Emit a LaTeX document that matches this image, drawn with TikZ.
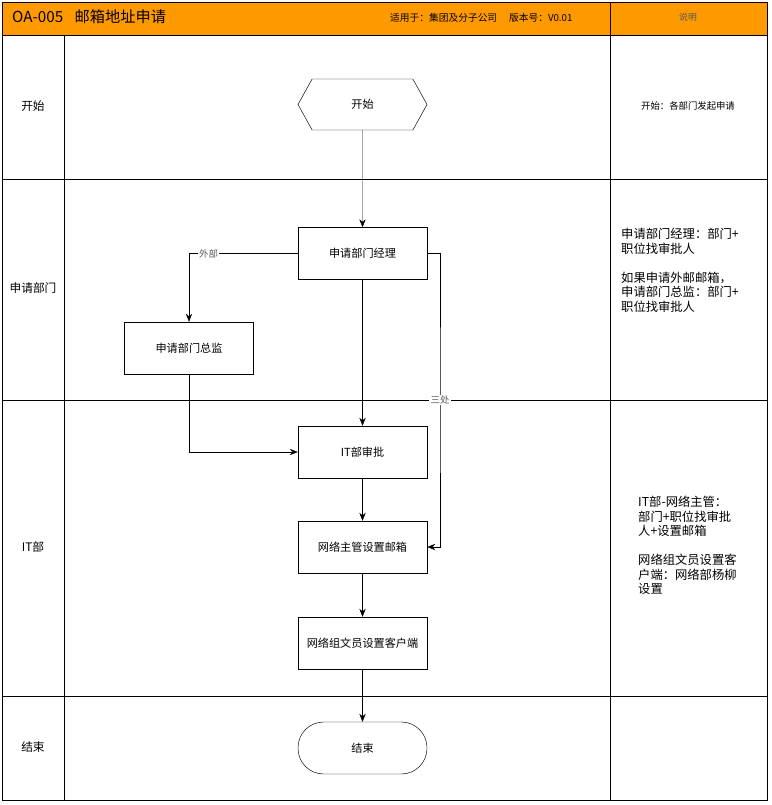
\documentclass[tikz,border=0pt]{standalone}
\usepackage{fontspec}
\setmainfont{Noto Sans CJK SC}
\usetikzlibrary{shapes.symbols,arrows.meta}
\definecolor{hdorange}{RGB}{255,153,0}
\definecolor{lblgray}{RGB}{90,90,90}
\begin{document}
\begin{tikzpicture}[x=0.03cm,y=-0.03cm,
    box/.style={draw,minimum width=3.87cm,minimum height=1.56cm,inner sep=0pt,font=\fontsize{9.5}{11}\selectfont},
    startbox/.style={draw,shape=signal,signal to=west and east,signal pointer angle=122,minimum width=3.87cm,minimum height=1.53cm,inner sep=0pt,font=\fontsize{9.5}{11}\selectfont},
    endbox/.style={draw,rounded corners=0.77cm,minimum width=3.87cm,minimum height=1.56cm,inner sep=0pt,font=\fontsize{9.5}{11}\selectfont},
    flow/.style={-{Stealth[length=0.24cm,width=0.19cm]}},
    lane/.style={font=\fontsize{10}{12}\selectfont},
    note/.style={anchor=north west,align=left,inner sep=0pt,font=\fontsize{10.5}{12.4}\selectfont},
    lbl/.style={fill=white,inner sep=1pt,text=lblgray,font=\fontsize{8}{9}\selectfont}]
    \useasboundingbox (0,0) rectangle (771,805);
    \fill[hdorange] (2,2) rectangle (767,35);
    \draw (2,2) rectangle (767,800);
    \foreach \y in {35,179,400,696}
        \draw (2,\y) -- (767,\y);
    \draw (64,35) -- (64,800);
    \draw (610,2) -- (610,800);
    \node[anchor=west,inner sep=0pt,font=\fontsize{13}{14}\selectfont] (titel) at (12,17) {OA-005\hspace{0.75em}邮箱地址申请};
    \node[anchor=west,inner sep=0pt,font=\fontsize{8.3}{9}\selectfont] (versie) at (390,18) {适用于：集团及分子公司\quad\ 版本号：V0.01};
    \node[text=lblgray,font=\fontsize{7.5}{9}\selectfont] (uitleg) at (688,17) {说明};
    \node[lane] (lkaishi) at (33,106) {开始};
    \node[lane] (lbumen) at (33,288) {申请部门};
    \node[lane] (lit) at (33,547) {IT部};
    \node[lane] (ljieshu) at (33,747) {结束};
    \node[startbox] (kaishi) at (362.5,104.5) {开始};
    \node[box] (jingli) at (362.5,253.5) {申请部门经理};
    \node[box] (zongjian) at (189,348) {申请部门总监};
    \node[box] (itsp) at (362.5,452) {IT部审批};
    \node[box] (zhuguan) at (362.5,547) {网络主管设置邮箱};
    \node[box] (wenyuan) at (362.5,643) {网络组文员设置客户端};
    \node[endbox] (jieshu) at (362.5,748) {结束};
    \coordinate (sanchu) at (440,400);
    \draw[flow] (kaishi) -- (jingli);
    \draw[flow] (jingli.west) -| node[lbl,pos=0.41] {外部} (zongjian.north);
    \draw[flow] (jingli) -- (itsp);
    \draw[flow] (zongjian.south) |- (itsp.west);
    \draw[flow] (jingli.east) -| (sanchu) |- (zhuguan.east);
    \node[lbl] (sanchulbl) at (sanchu) {三处};
    \draw[flow] (itsp) -- (zhuguan);
    \draw[flow] (zhuguan) -- (wenyuan);
    \draw[flow] (wenyuan) -- (jieshu);
    \node[font=\fontsize{8}{9}\selectfont] (nkaishi) at (688,106) {开始：各部门发起申请};
    \node[note] (nbumen) at (621,228) {申请部门经理：部门+\\职位找审批人\\[12.4pt]如果申请外邮邮箱，\\申请部门总监：部门+\\职位找审批人};
    \node[note] (nit) at (638,496) {IT部-网络主管：\\部门+职位找审批\\人+设置邮箱\\[12.4pt]网络组文员设置客\\户端：网络部杨柳\\设置};
\end{tikzpicture}
\end{document}
